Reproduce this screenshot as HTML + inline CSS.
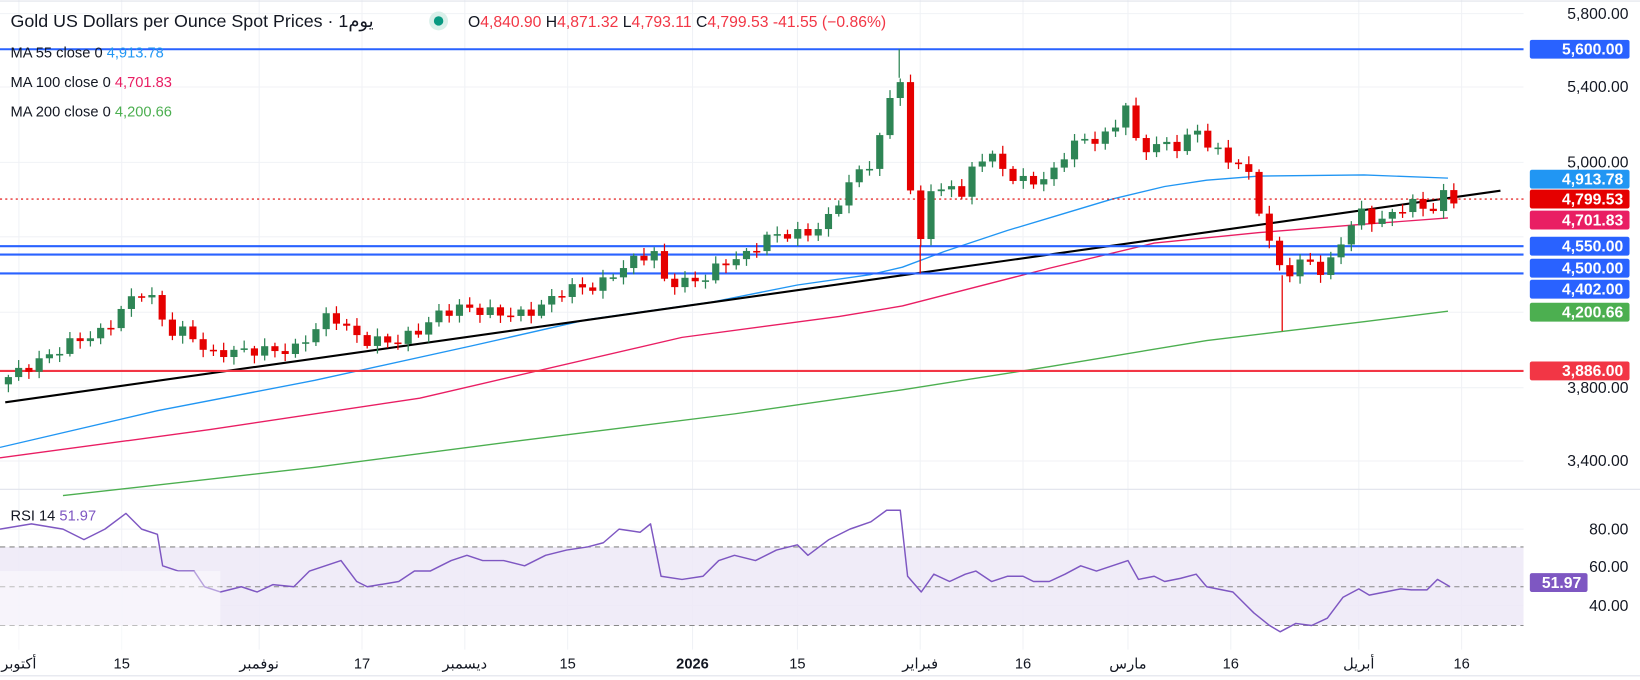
<!DOCTYPE html>
<html><head><meta charset="utf-8">
<style>
html,body{margin:0;padding:0;background:#fff;}
svg{display:block;}
text{font-family:"Liberation Sans","Noto Sans CJK SC",sans-serif;}
</style></head>
<body>
<svg id="c" width="1640" height="680" viewBox="0 0 1563 649" preserveAspectRatio="none" xmlns="http://www.w3.org/2000/svg">
<rect x="0" y="0" width="1563" height="649" fill="#fff"/>
<g id="grid" stroke="#f0f2f6" stroke-width="1"></g>
<line x1="0" y1="467" x2="1563" y2="467" stroke="#e0e3eb"/>
<line x1="0" y1="645" x2="1563" y2="645" stroke="#e0e3eb"/>
<line x1="0" y1="1" x2="1563" y2="1" stroke="#e0e3eb"/>
<rect x="0" y="522" width="1452" height="75" fill="#ede9f7" opacity="0.85"/>
<line x1="0" y1="522" x2="1452" y2="522" stroke="#888" stroke-dasharray="5,4"/>
<line x1="0" y1="560" x2="1452" y2="560" stroke="#888" stroke-dasharray="5,4"/>
<line x1="0" y1="597" x2="1452" y2="597" stroke="#888" stroke-dasharray="5,4"/>
<g id="ma"></g>
<line x1="5" y1="384" x2="1430" y2="182" stroke="#000" stroke-width="2"/>
<line x1="0" y1="47" x2="1452" y2="47" stroke="#2962ff" stroke-width="2"/>
<line x1="0" y1="235" x2="1452" y2="235" stroke="#2962ff" stroke-width="2"/>
<line x1="0" y1="243" x2="1452" y2="243" stroke="#2962ff" stroke-width="2"/>
<line x1="0" y1="261" x2="1452" y2="261" stroke="#2962ff" stroke-width="2"/>
<line x1="0" y1="354" x2="1452" y2="354" stroke="#f23645" stroke-width="2"/>
<line x1="0" y1="190" x2="1452" y2="190" stroke="#e00000" stroke-width="1" stroke-dasharray="2,3"/>
<g id="candles"></g>
<g id="rsi"></g>
<rect x="0" y="545" width="210" height="75" fill="#fff" opacity="0.45"/>
<text x="10" y="26" font-size="17" fill="#131722">Gold US Dollars per Ounce Spot Prices · 1يوم</text>
<circle cx="418" cy="20" r="9" fill="#d9f0ea"/><circle cx="418" cy="20" r="4.5" fill="#089981"/>
<text x="446" y="26" font-size="15" fill="#131722">O<tspan fill="#f23645">4,840.90</tspan> H<tspan fill="#f23645">4,871.32</tspan> L<tspan fill="#f23645">4,793.11</tspan> C<tspan fill="#f23645">4,799.53</tspan> <tspan fill="#f23645">-41.55 (−0.86%)</tspan></text>
<text x="10" y="55" font-size="14" fill="#131722">MA  55 close 0 <tspan fill="#2196f3">4,913.78</tspan></text>
<text x="10" y="83" font-size="14" fill="#131722">MA  100 close 0 <tspan fill="#e91e63">4,701.83</tspan></text>
<text x="10" y="111" font-size="14" fill="#131722">MA  200 close 0 <tspan fill="#4caf50">4,200.66</tspan></text>
<text x="10" y="497" font-size="14" fill="#131722">RSI  14 <tspan fill="#7e57c2">51.97</tspan></text>
<g font-size="15" fill="#131722" text-anchor="end" id="axis">
<text x="1552" y="18">5,800.00</text>
<text x="1552" y="88">5,400.00</text>
<text x="1552" y="160">5,000.00</text>
<text x="1552" y="375">3,800.00</text>
<text x="1552" y="445">3,400.00</text>
<text x="1552" y="510">80.00</text>
<text x="1552" y="546">60.00</text>
<text x="1552" y="583">40.00</text>
</g>
<g id="tags" font-size="15" font-weight="bold" fill="#fff" text-anchor="end"></g>
<g font-size="14" fill="#131722" text-anchor="middle">
<text x="18" y="638">أكتوبر</text>
<text x="116" y="638">15</text>
<text x="247" y="638">نوفمبر</text>
<text x="345" y="638">17</text>
<text x="443" y="638">ديسمبر</text>
<text x="541" y="638">15</text>
<text x="660" y="638" font-weight="bold">2026</text>
<text x="760" y="638">15</text>
<text x="877" y="638">فبراير</text>
<text x="975" y="638">16</text>
<text x="1075" y="638">مارس</text>
<text x="1173" y="638">16</text>
<text x="1295" y="638">أبريل</text>
<text x="1393" y="638">16</text>
</g>
</svg>
<script>
const NS="http://www.w3.org/2000/svg";
function el(p,t,a){const e=document.createElementNS(NS,t);for(const k in a)e.setAttribute(k,a[k]);p.appendChild(e);return e;}
const Y=p=>155+(5000-p)*0.1795;
const grid=document.getElementById('grid');
[18,116,247,345,443,541,660,760,877,975,1075,1173,1295,1393].forEach(x=>el(grid,'line',{x1:x,y1:0,x2:x,y2:620}));
[13,83,155,226,298,370,440,505,578].forEach(y=>el(grid,'line',{x1:0,y1:y,x2:1452,y2:y}));
const pts=[[5,3850],[40,3950],[70,4050],[100,4100],[120,4250],[140,4330],[160,4100],[180,4100],[200,3970],[210,3990],[240,4000],[280,4000],[300,4110],[315,4200],[330,4120],[345,4050],[380,4050],[400,4110],[420,4200],[440,4230],[470,4200],[500,4190],[520,4250],[540,4330],[570,4340],[590,4430],[610,4500],[625,4520],[632,4370],[650,4360],[670,4380],[690,4470],[710,4500],[730,4600],[750,4620],[770,4620],[790,4700],[810,4900],[830,5000],[840,5150],[850,5380],[858,5450],[866,4880],[876,4560],[886,4860],[897,4830],[907,4900],[916,4800],[926,4960],[940,5060],[955,4970],[970,4900],[990,4900],[1005,4950],[1020,5100],[1040,5120],[1060,5150],[1073,5320],[1085,5050],[1100,5100],[1120,5080],[1140,5170],[1155,5080],[1170,5010],[1185,5000],[1195,4850],[1205,4650],[1215,4500],[1222,4400],[1235,4440],[1245,4500],[1255,4420],[1265,4430],[1280,4600],[1295,4740],[1305,4700],[1320,4690],[1335,4760],[1350,4790],[1363,4720],[1372,4840],[1382,4800]];
function interp(x){for(let i=1;i<pts.length;i++){if(x<=pts[i][0]){const a=pts[i-1],b=pts[i];return a[1]+(b[1]-a[1])*(x-a[0])/(b[0]-a[0]);}}return pts[pts.length-1][1];}
const cg=document.getElementById('candles');
let prev=3820;
for(let i=0;;i++){const x=8+i*9.77;if(x>1386)break;
 const c=interp(x)+Math.sin(i*2.3)*28;const o=prev;prev=c;
 const hi=Math.max(o,c)+12+Math.abs(Math.sin(i*1.7))*30,lo=Math.min(o,c)-12-Math.abs(Math.cos(i*1.3))*30;
 const col=c>=o?'#2e8555':'#e50000';
 el(cg,'line',{x1:x,y1:Y(hi),x2:x,y2:Y(lo),stroke:col,'stroke-width':1.2});
 const t=Y(Math.max(o,c)),b=Y(Math.min(o,c));
 el(cg,'rect',{x:x-3.4,y:t,width:6.8,height:Math.max(1.5,b-t),fill:col});}
el(cg,'line',{x1:857,y1:Y(5450),x2:857,y2:47,stroke:'#2e8555','stroke-width':1.2});
el(cg,'line',{x1:877,y1:Y(4560),x2:877,y2:261,stroke:'#e50000','stroke-width':1.2});
el(cg,'line',{x1:1222,y1:Y(4400),x2:1222,y2:316,stroke:'#e50000','stroke-width':1.2});
const ma=document.getElementById('ma');
function pl(p,col,w,g){el(g||ma,'polyline',{points:p.map(a=>a.join(',')).join(' '),fill:'none',stroke:col,'stroke-width':w||1.3,'stroke-linejoin':'round'});}
pl([[0,427],[150,392],[300,363],[450,330],[560,305],[680,288],[760,272],[830,262],[860,255],[900,240],[960,220],[1010,205],[1060,190],[1110,178],[1150,172],[1200,168],[1300,167],[1380,170]],'#2196f3');
pl([[0,437],[200,410],[400,380],[650,322],[800,302],[860,292],[1000,256],[1100,232],[1200,222],[1300,214],[1380,208]],'#e91e63');
pl([[60,473],[300,446],[500,420],[700,395],[860,372],[1000,350],[1150,325],[1225,316],[1300,307],[1380,297]],'#4caf50');
const r=[[0,505],[30,500],[60,505],[80,515],[100,505],[120,490],[135,505],[150,510],[155,540],[170,545],[185,545],[195,560],[210,565],[230,560],[245,565],[260,558],[280,560],[295,545],[310,540],[325,535],[340,555],[350,560],[380,555],[395,545],[410,545],[430,535],[445,530],[460,535],[480,535],[500,540],[520,530],[540,525],[560,522],[575,518],[590,505],[610,508],[620,500],[630,550],[650,553],[670,550],[685,535],[700,530],[720,535],[740,525],[760,520],[770,530],[790,515],[810,505],[830,498],[845,487],[858,487],[865,550],[878,565],[890,548],[905,555],[920,548],[930,545],[945,555],[960,550],[975,550],[985,555],[1000,555],[1015,548],[1030,540],[1045,545],[1060,540],[1075,535],[1085,553],[1100,550],[1110,555],[1125,552],[1140,548],[1150,560],[1160,562],[1175,565],[1185,575],[1195,585],[1210,597],[1220,603],[1235,595],[1250,597],[1265,590],[1280,570],[1295,562],[1305,568],[1320,565],[1335,562],[1345,563],[1360,563],[1370,553],[1382,560]];
pl(r,'#7e57c2',1.4,document.getElementById('rsi'));
const tags=document.getElementById('tags');
[[47,'5,600.00','#2962ff'],[171,'4,913.78','#2196f3'],[190,'4,799.53','#e50000'],[210,'4,701.83','#e91e63'],[235,'4,550.00','#2962ff'],[256,'4,500.00','#2962ff'],[276,'4,402.00','#2962ff'],[298,'4,200.66','#4caf50'],[354,'3,886.00','#f23645'],[556,'51.97','#7e57c2']].forEach(t=>{
 const w=t[1]==='51.97'?55:95;
 el(tags,'rect',{x:1458,y:t[0]-9,width:w,height:18,rx:2,fill:t[2]});
 const tx=el(tags,'text',{x:1458+w-6,y:t[0]+5});tx.textContent=t[1];});
</script>
</body></html>
